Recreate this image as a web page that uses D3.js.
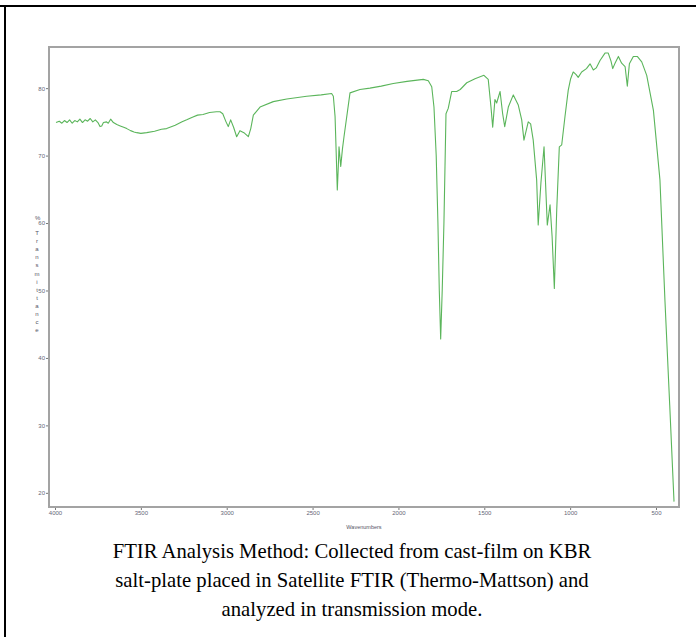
<!DOCTYPE html>
<html>
<head>
<meta charset="utf-8">
<script src="https://cdn.jsdelivr.net/npm/d3@7"></script>
<style>
  html, body { margin: 0; padding: 0; background: #fff; }
  svg { display: block; }
</style>
</head>
<body>
<svg id="chart" width="696" height="637"></svg>
<script>
// spectrum: wavenumber (cm-1) and % transmittance
const wavenumbers = [
  3994, 3975, 3960, 3945, 3930, 3915, 3900, 3885, 3870, 3855, 3840, 3825, 3810, 3795,
  3780, 3765, 3750, 3738, 3728, 3718, 3700, 3690, 3676, 3660, 3640, 3620, 3600, 3582,
  3560, 3540, 3524, 3500, 3466, 3420, 3380, 3350, 3300, 3260, 3233, 3200, 3170, 3138,
  3100, 3060, 3039, 3023, 3004, 2991, 2977, 2960, 2942, 2923, 2900, 2874, 2860, 2845,
  2806, 2729, 2650, 2534, 2450, 2389, 2379, 2369, 2362, 2356, 2350, 2346, 2336, 2326,
  2317, 2282, 2224, 2166, 2100, 2030, 1950, 1855, 1826, 1806, 1793, 1780, 1770, 1762,
  1754, 1745, 1735, 1723, 1710, 1690, 1661, 1640, 1602, 1554, 1502, 1477, 1461, 1451,
  1438, 1428, 1408, 1393, 1381, 1360, 1331, 1302, 1282, 1269, 1244, 1230, 1215, 1195,
  1186, 1170, 1152, 1133, 1117, 1105, 1092, 1078, 1063, 1049, 1030, 1011, 997, 982,
  965, 953, 933, 905, 884, 865, 848, 826, 797, 778, 762, 752, 740, 719, 700, 680, 667,
  655, 632, 609, 583, 554, 515, 477, 448, 420, 395
]
const transmittance = [
  74.9, 75.1, 74.8, 75.2, 74.9, 75.3, 74.8, 75.2, 75.0, 75.4, 74.9, 75.3, 75.1, 75.5,
  75.0, 75.3, 74.9, 74.3, 74.4, 74.9, 75.0, 74.8, 75.4, 74.9, 74.6, 74.4, 74.2, 74.0,
  73.7, 73.5, 73.4, 73.3, 73.4, 73.6, 73.9, 74.0, 74.5, 75.0, 75.3, 75.7, 76.0, 76.1,
  76.4, 76.5, 76.5, 76.2, 75.0, 74.3, 75.3, 74.2, 72.8, 73.7, 73.4, 72.8, 74.0, 76.0,
  77.2, 78.0, 78.4, 78.8, 79.0, 79.2, 78.8, 75.8, 70.0, 64.9, 68.5, 71.3, 68.4, 71.0,
  72.8, 79.3, 79.8, 80.0, 80.3, 80.7, 81.0, 81.3, 81.1, 80.2, 77.2, 70.0, 60.0, 50.0,
  42.8, 50.0, 60.0, 76.2, 77.0, 79.5, 79.5, 79.8, 80.8, 81.4, 81.9, 81.3, 77.2, 74.2,
  78.3, 77.8, 79.5, 76.2, 74.3, 77.2, 79.0, 77.5, 75.3, 72.3, 75.0, 74.7, 72.3, 66.4,
  59.7, 66.0, 71.3, 59.7, 62.7, 58.0, 50.3, 62.0, 71.3, 71.6, 75.8, 79.7, 81.4, 82.4,
  82.0, 81.6, 82.4, 82.9, 83.6, 82.7, 83.0, 84.1, 85.2, 85.2, 84.0, 82.9, 83.6, 84.7,
  83.7, 83.2, 80.3, 83.6, 84.7, 84.7, 83.9, 81.9, 76.7, 66.4, 48.6, 33.0, 18.7
]
const xTicks = [4000, 3500, 3000, 2500, 2000, 1500, 1000, 500]
const yTicks = [20, 30, 40, 50, 60, 70, 80]
const yLabelChars = ['T', 'r', 'a', 'n', 's', 'm', 'i', 't', 't', 'a', 'n', 'c', 'e']
const captionLines = [
  'FTIR Analysis Method: Collected from cast-film on KBR',
  'salt-plate placed in Satellite FTIR (Thermo-Mattson) and',
  'analyzed in transmission mode.'
]

const svg = d3.select('#chart')

// cell border (top and left edges)
svg.append('line').attr('x1', 0).attr('x2', 696).attr('y1', 6).attr('y2', 6)
  .attr('stroke', '#000').attr('stroke-width', 2)
svg.append('line').attr('x1', 5).attr('x2', 5).attr('y1', 5).attr('y2', 637)
  .attr('stroke', '#000').attr('stroke-width', 2)

const box = { left: 49, right: 679, top: 47, bottom: 507 }

const xScale = d3.scaleLinear().domain([4035, 366]).range([box.left, box.right])
const yScale = d3.scaleLinear().domain([17.9, 86.1]).range([box.bottom, box.top])

// axes
const xAxis = d3.axisBottom(xScale).tickValues(xTicks).tickFormat(d3.format('d'))
  .tickSize(3).tickPadding(1)
const yAxis = d3.axisLeft(yScale).tickValues(yTicks).tickFormat(d3.format('d'))
  .tickSize(3).tickPadding(1)

const gx = svg.append('g').attr('transform', `translate(0,${box.bottom})`).call(xAxis)
const gy = svg.append('g').attr('transform', `translate(${box.left},0)`).call(yAxis)

;[gx, gy].forEach(g => {
  g.select('.domain').remove()
  g.selectAll('line').attr('stroke', '#777')
  g.selectAll('text')
    .attr('fill', '#667')
    .style('font-family', 'Arial, "Liberation Sans", sans-serif')
    .style('font-size', '6px')
})

// plot frame
svg.append('rect')
  .attr('x', box.left).attr('y', box.top)
  .attr('width', box.right - box.left).attr('height', box.bottom - box.top)
  .attr('fill', 'none').attr('stroke', '#a3a3a3').attr('stroke-width', 2)

// spectrum
const points = wavenumbers.map((w, i) => [w, transmittance[i]])
const line = d3.line()
  .x(d => xScale(d[0]))
  .y(d => yScale(d[1]))

svg.append('path')
  .datum(points)
  .attr('d', line)
  .attr('fill', 'none')
  .attr('stroke', '#5bb55b')
  .attr('stroke-width', 1.1)
  .attr('stroke-linejoin', 'round')

// axis titles
svg.append('text')
  .attr('x', 35).attr('y', 220)
  .attr('fill', '#556')
  .style('font-family', 'Arial, "Liberation Sans", sans-serif')
  .style('font-size', '6px')
  .text('%')

svg.append('g').selectAll('text')
  .data(yLabelChars)
  .join('text')
  .attr('x', 37)
  .attr('y', (d, i) => 235 + i * 8.1)
  .attr('text-anchor', 'middle')
  .attr('fill', '#556')
  .style('font-family', 'Arial, "Liberation Sans", sans-serif')
  .style('font-size', '6px')
  .text(d => d)

svg.append('text')
  .attr('x', (box.left + box.right) / 2).attr('y', 529)
  .attr('text-anchor', 'middle')
  .attr('fill', '#556')
  .style('font-family', 'Arial, "Liberation Sans", sans-serif')
  .style('font-size', '5.5px')
  .text('Wavenumbers')

// caption
svg.append('g').selectAll('text')
  .data(captionLines)
  .join('text')
  .attr('x', 352)
  .attr('y', (d, i) => 558 + i * 29)
  .attr('text-anchor', 'middle')
  .attr('fill', '#000')
  .style('font-family', '"Liberation Serif", "Times New Roman", serif')
  .style('font-size', '20.7px')
  .text(d => d)
</script>
</body>
</html>
